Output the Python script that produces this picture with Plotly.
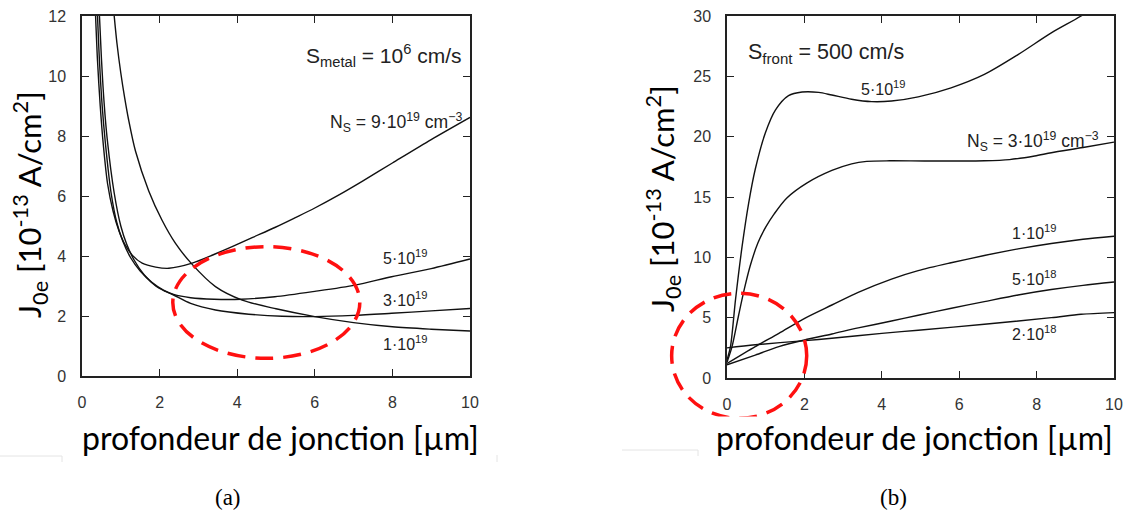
import plotly.graph_objects as go

# ---------------- data (a) : S_metal = 1e6 cm/s ----------------
xa_9e19 = [0.35, 0.40, 0.47, 0.55, 0.66, 0.80, 0.95, 1.10, 1.30, 1.55, 1.90, 2.24, 2.84, 3.40, 3.87, 4.40, 4.97, 5.50, 6.00, 6.60, 7.21, 8.00, 9.00, 10.0]
ya_9e19 = [12.0, 10.5, 9.0, 7.7, 6.4, 5.5, 4.85, 4.4, 4.02, 3.76, 3.63, 3.59, 3.76, 4.05, 4.31, 4.62, 4.95, 5.28, 5.60, 6.02, 6.48, 7.10, 7.88, 8.62]

xa_5e19 = [0.40, 0.45, 0.52, 0.60, 0.75, 0.90, 1.05, 1.25, 1.50, 1.80, 2.10, 2.36, 2.80, 3.40, 4.10, 4.97, 6.00, 7.04, 7.98, 9.00, 10.0]
ya_5e19 = [12.0, 10.5, 9.0, 7.8, 6.1, 5.1, 4.5, 3.95, 3.50, 3.12, 2.86, 2.72, 2.61, 2.56, 2.56, 2.64, 2.82, 3.03, 3.31, 3.58, 3.90]

xa_3e19 = [0.45, 0.50, 0.57, 0.65, 0.83, 1.00, 1.15, 1.35, 1.60, 1.90, 2.15, 2.36, 2.80, 3.44, 4.30, 5.16, 6.00, 7.00, 7.98, 9.00, 10.0]
ya_3e19 = [12.0, 10.6, 9.1, 7.9, 6.1, 5.0, 4.4, 3.85, 3.38, 3.00, 2.82, 2.70, 2.42, 2.20, 2.06, 1.99, 1.98, 2.02, 2.09, 2.17, 2.25]

xa_1e19 = [0.83, 0.90, 1.00, 1.10, 1.20, 1.38, 1.72, 2.06, 2.41, 2.84, 3.44, 4.13, 5.00, 6.00, 7.00, 8.00, 9.00, 10.0]
ya_1e19 = [12.0, 11.1, 10.1, 9.27, 8.55, 7.49, 6.17, 5.20, 4.42, 3.72, 2.98, 2.53, 2.24, 1.98, 1.78, 1.64, 1.56, 1.50]

# ---------------- data (b) : S_front = 500 cm/s ----------------
xb_5e19 = [0.0, 0.09, 0.22, 0.39, 0.56, 0.73, 0.99, 1.25, 1.59, 1.94, 2.37, 2.71, 3.22, 3.74, 4.25, 4.94, 5.79, 6.65, 7.52, 8.38, 9.15, 9.6]
yb_5e19 = [1.5, 2.6, 6.5, 10.9, 14.5, 17.3, 20.3, 22.2, 23.4, 23.7, 23.67, 23.45, 23.1, 22.9, 22.95, 23.3, 24.05, 25.16, 26.8, 28.6, 30.0, 31.0]

xb_3e19 = [0.0, 0.13, 0.30, 0.45, 0.60, 0.80, 1.00, 1.22, 1.54, 2.06, 2.71, 3.22, 3.61, 4.20, 5.10, 6.00, 6.65, 7.30, 7.95, 8.38, 9.20, 10.0]
yb_3e19 = [1.3, 2.6, 5.2, 7.4, 9.3, 11.2, 12.5, 13.6, 14.9, 16.15, 17.2, 17.75, 17.95, 18.0, 17.98, 17.98, 18.0, 18.1, 18.4, 18.67, 19.1, 19.55]

xb_1e19 = [0.0, 0.73, 1.34, 2.02, 2.71, 3.39, 4.25, 4.94, 5.79, 6.65, 7.52, 8.38, 9.20, 10.0]
yb_1e19 = [1.2, 2.6, 3.7, 4.97, 6.05, 7.1, 8.2, 8.9, 9.55, 10.15, 10.7, 11.15, 11.5, 11.75]

xb_5e18 = [0.0, 0.73, 1.34, 2.00, 2.71, 3.39, 4.25, 4.94, 5.80, 6.65, 7.52, 8.38, 9.20, 10.0]
yb_5e18 = [1.1, 1.9, 2.6, 3.15, 3.65, 4.15, 4.72, 5.2, 5.78, 6.33, 6.88, 7.33, 7.68, 7.95]

xb_2e18 = [0.0, 0.73, 2.02, 2.71, 4.00, 4.94, 6.65, 8.38, 9.15, 10.0]
yb_2e18 = [2.5, 2.75, 3.1, 3.29, 3.7, 3.96, 4.45, 5.0, 5.28, 5.42]

# tick labels
ticks_ya = [0, 2, 4, 6, 8, 10, 12]
ticks_yb = [0, 5, 10, 15, 20, 25, 30]
ticks_x = [0, 2, 4, 6, 8, 10]

# highlighted regions (data units): x0, x1, y0, y1
ell_a = (2.34, 7.16, 0.59, 4.31)
ell_b = (-1.43, 2.06, -3.34, 7.02)

W, H = 1123, 522
TICKFONT = "Liberation Sans, Arial, sans-serif"
TITLEFONT = "Lato, Open Sans, sans-serif"
LINE = dict(color="#111111", width=1.4)

fig = go.Figure()
for xs, ys in [(xa_9e19, ya_9e19), (xa_5e19, ya_5e19), (xa_3e19, ya_3e19), (xa_1e19, ya_1e19)]:
    fig.add_trace(go.Scatter(x=xs, y=ys, mode="lines", line=dict(shape="spline", smoothing=0.8, **LINE),
                             xaxis="x", yaxis="y", showlegend=False, hoverinfo="skip"))
for xs, ys in [(xb_5e19, yb_5e19), (xb_3e19, yb_3e19), (xb_1e19, yb_1e19), (xb_5e18, yb_5e18), (xb_2e18, yb_2e18)]:
    fig.add_trace(go.Scatter(x=xs, y=ys, mode="lines", line=dict(shape="spline", smoothing=0.8, **LINE),
                             xaxis="x2", yaxis="y2", showlegend=False, hoverinfo="skip"))

axis_common = dict(showgrid=False, zeroline=False, showline=True, linecolor="#222", linewidth=1.5,
                   mirror="allticks", ticks="inside", ticklen=7, tickwidth=1.3, tickcolor="#222",
                   automargin=False,
                   tickfont=dict(family=TICKFONT, size=16, color="#333"), ticklabelstandoff=11)

fig.update_layout(
    width=W, height=H, margin=dict(l=0, r=0, t=0, b=0, autoexpand=False),
    paper_bgcolor="white", plot_bgcolor="white", showlegend=False,
    xaxis=dict(domain=[82 / W, 470 / W], range=[0, 10], tickvals=ticks_x, anchor="y", **axis_common),
    yaxis=dict(domain=[(H - 376) / H, (H - 16) / H], range=[0, 12], tickvals=ticks_ya, anchor="x", **axis_common),
    xaxis2=dict(domain=[727 / W, 1114 / W], range=[0, 10], tickvals=ticks_x, anchor="y2", **axis_common),
    yaxis2=dict(domain=[(H - 378) / H, (H - 16) / H], range=[0, 30], tickvals=ticks_yb, anchor="x2", **axis_common),
)

anns = []
def lab(text, x, y, xr, yr, size=16):
    anns.append(dict(text=text, x=x, y=y, xref=xr, yref=yr, xanchor="left", yanchor="middle",
                     showarrow=False, font=dict(family=TICKFONT, size=size, color="#222")))

lab("S<sub>metal</sub> = 10<sup>6</sup> cm/s", 5.73, 10.7, "x", "y", 21)
lab("N<sub>S</sub> = 9·10<sup>19</sup> cm<sup>−3</sup>", 6.33, 8.45, "x", "y", 17.6)
lab("5·10<sup>19</sup>", 7.7, 3.97, "x", "y")
lab("3·10<sup>19</sup>", 7.7, 2.57, "x", "y")
lab("1·10<sup>19</sup>", 7.7, 1.1, "x", "y")

lab("S<sub>front</sub> = 500 cm/s", 0.48, 26.9, "x2", "y2", 21.5)
lab("5·10<sup>19</sup>", 3.42, 24.0, "x2", "y2")
lab("N<sub>S</sub> = 3·10<sup>19</sup> cm<sup>−3</sup>", 6.15, 19.6, "x2", "y2", 17.5)
lab("1·10<sup>19</sup>", 7.3, 12.1, "x2", "y2")
lab("5·10<sup>18</sup>", 7.3, 8.3, "x2", "y2")
lab("2·10<sup>18</sup>", 7.3, 3.7, "x2", "y2")

ytitle = "J<sub>0e</sub> [10<sup>-13</sup> A/cm<sup>2</sup>]"
xtitle = "profondeur de jonction [µm]"
for xp, yp in [(30, 205), (663, 199)]:
    anns.append(dict(text=ytitle, x=xp / W, y=(H - yp) / H, xref="paper", yref="paper", textangle=-90,
                     xanchor="center", yanchor="middle", showarrow=False,
                     font=dict(family=TITLEFONT, size=31, color="black")))
for xp, yp in [(280, 437), (914, 437)]:
    anns.append(dict(text=xtitle, x=xp / W, y=(H - yp) / H, xref="paper", yref="paper",
                     xanchor="center", yanchor="middle", showarrow=False, bgcolor="white",
                     font=dict(family=TITLEFONT, size=32, color="black")))
for t, xp in [("(a)", 228), ("(b)", 893)]:
    anns.append(dict(text=t, x=xp / W, y=(H - 497) / H, xref="paper", yref="paper",
                     xanchor="center", yanchor="middle", showarrow=False,
                     font=dict(family="Liberation Serif, DejaVu Serif, serif", size=23, color="black")))
fig.update_layout(annotations=anns)

shapes = []
for (x0, x1, y0, y1), xr, yr, ymax in [(ell_a, "x domain", "y domain", 12), (ell_b, "x2 domain", "y2 domain", 30)]:
    shapes.append(dict(type="circle", xref=xr, yref=yr, x0=x0 / 10, x1=x1 / 10, y0=y0 / ymax, y1=y1 / ymax,
                       line=dict(color="#ff1010", width=3.5, dash="18px,10px"), layer="above"))
# faint scan-border remnants
for (px0, py0, px1, py1) in [(0, 456, 62, 456), (62, 456, 62, 462), (497, 455, 497, 462), (622, 450, 698, 450), (698, 450, 698, 456)]:
    shapes.append(dict(type="line", xref="paper", yref="paper", x0=px0 / W, x1=px1 / W,
                       y0=(H - py0) / H, y1=(H - py1) / H, line=dict(color="#e4e4e4", width=1)))
fig.update_layout(shapes=shapes)

fig.write_html("out.html", config={"displayModeBar": False},
               post_script="document.body.style.margin='0px';")
